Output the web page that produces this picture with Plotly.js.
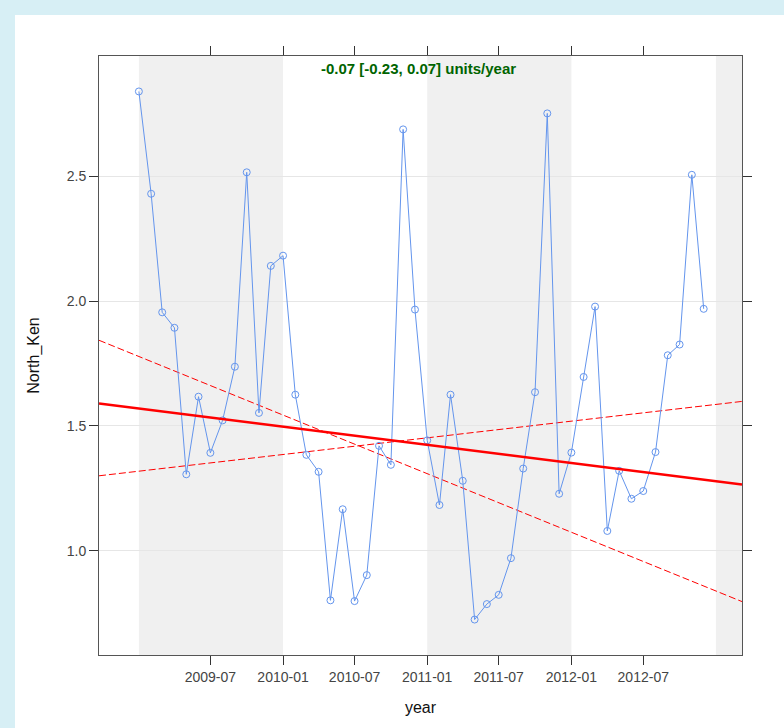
<!DOCTYPE html>
<html>
<head>
<meta charset="utf-8">
<script src="https://cdn.plot.ly/plotly-3.0.1.min.js"></script>
<style>
  html, body { margin: 0; padding: 0; background: #d7eff5; width: 784px; height: 728px; overflow: hidden; }
  #wrap { position: absolute; left: 15px; top: 15px; width: 769px; height: 713px; background: #ffffff; }
  #chart { width: 769px; height: 713px; }
</style>
</head>
<body>
<div id="wrap"><div id="chart"></div></div>
<script>
// ---- data ----
const months = [
  '2009-01-01','2009-02-01','2009-03-01','2009-04-01','2009-05-01','2009-06-01',
  '2009-07-01','2009-08-01','2009-09-01','2009-10-01','2009-11-01','2009-12-01',
  '2010-01-01','2010-02-01','2010-03-01','2010-04-01','2010-05-01','2010-06-01',
  '2010-07-01','2010-08-01','2010-09-01','2010-10-01','2010-11-01','2010-12-01',
  '2011-01-01','2011-02-01','2011-03-01','2011-04-01','2011-05-01','2011-06-01',
  '2011-07-01','2011-08-01','2011-09-01','2011-10-01','2011-11-01','2011-12-01',
  '2012-01-01','2012-02-01','2012-03-01','2012-04-01','2012-05-01','2012-06-01',
  '2012-07-01','2012-08-01','2012-09-01','2012-10-01','2012-11-01','2012-12-01'
];
const northKen = [
  2.84, 2.43, 1.955, 1.893, 1.306, 1.617, 1.392, 1.522, 1.737, 2.516, 1.552, 2.141,
  2.182, 1.625, 1.384, 1.316, 0.801, 1.166, 0.798, 0.902, 1.420, 1.344, 2.688, 1.966,
  1.442, 1.183, 1.625, 1.280, 0.724, 0.786, 0.823, 0.970, 1.329, 1.635, 2.752, 1.228,
  1.393, 1.696, 1.978, 1.079, 1.320, 1.208, 1.239, 1.395, 1.783, 1.826, 2.506, 1.969
];
// trend line ends (at the x-axis limits)
const trendX = ['2008-09-22', '2013-03-08'];
const trendMid = [1.590, 1.265];
const trendLower = [1.843, 0.796];   // slope -0.23
const trendUpper = [1.300, 1.598];   // slope +0.07
const trendLabel = '-0.07 [-0.23, 0.07] units/year';
// shaded year bands
const bandStarts = ['2009-01-01', '2011-01-01', '2013-01-01'];
const bandEnds   = ['2010-01-01', '2012-01-01', '2013-03-08'];
// ticks
const xTickVals = ['2009-07-01','2010-01-01','2010-07-01','2011-01-01','2011-07-01','2012-01-01','2012-07-01'];
const xTickText = ['2009-07','2010-01','2010-07','2011-01','2011-07','2012-01','2012-07'];
const yTickVals = [1.0, 1.5, 2.0, 2.5];
const yTickText = ['1.0', '1.5', '2.0', '2.5'];

// ---- chart ----
const blue = '#6495ED';
const traces = [
  { x: trendX, y: trendLower, mode: 'lines', line: { color: '#ff0000', width: 1, dash: '7px,3px' }, hoverinfo: 'skip' },
  { x: trendX, y: trendUpper, mode: 'lines', line: { color: '#ff0000', width: 1, dash: '7px,3px' }, hoverinfo: 'skip' },
  { x: months, y: northKen, mode: 'lines+markers',
    line: { color: blue, width: 1 },
    marker: { symbol: 'circle-open', size: 7, color: blue, line: { width: 1, color: blue } } },
  { x: trendX, y: trendMid, mode: 'lines', line: { color: '#ff0000', width: 2.5 }, hoverinfo: 'skip' }
];

const shapes = bandStarts.map((s, i) => ({
  type: 'rect', xref: 'x', yref: 'paper', x0: s, x1: bandEnds[i], y0: 0, y1: 1,
  fillcolor: '#f0f0f0', line: { width: 0 }, layer: 'between'
}));

const layout = {
  width: 769, height: 713,
  margin: { l: 83.5, r: 42, t: 41, b: 73, pad: 0 },
  paper_bgcolor: '#ffffff', plot_bgcolor: '#ffffff',
  showlegend: false,
  font: { family: 'Liberation Sans, Arial, sans-serif', color: '#000' },
  xaxis: {
    type: 'date', range: trendX,
    tickvals: xTickVals, ticktext: xTickText,
    showgrid: false, zeroline: false,
    showline: true, linecolor: '#555555', linewidth: 1, mirror: 'ticks',
    ticks: 'outside', ticklen: 9, tickcolor: '#333333', tickwidth: 1,
    tickfont: { size: 14, color: '#444444' },
    title: { text: 'year', font: { size: 16, color: '#111111' }, standoff: 18 }
  },
  yaxis: {
    range: [0.582, 2.982],
    tickvals: yTickVals, ticktext: yTickText,
    showgrid: true, gridcolor: '#e6e6e6', gridwidth: 1, zeroline: false,
    showline: true, linecolor: '#555555', linewidth: 1, mirror: 'ticks',
    ticks: 'outside', ticklen: 9, tickcolor: '#333333', tickwidth: 1,
    tickfont: { size: 14, color: '#444444' },
    title: { text: 'North_Ken', font: { size: 16, color: '#111111' }, standoff: 23 }
  },
  shapes: shapes,
  annotations: [{
    text: '<b>' + trendLabel + '</b>', xref: 'paper', yref: 'paper',
    x: 0.497, y: 0.9795, xanchor: 'center', yanchor: 'middle', showarrow: false,
    font: { size: 15, color: '#006400', family: 'Liberation Sans, Arial, sans-serif' }
  }]
};

Plotly.newPlot('chart', traces, layout, { displayModeBar: false, staticPlot: true });
</script>
</body>
</html>
